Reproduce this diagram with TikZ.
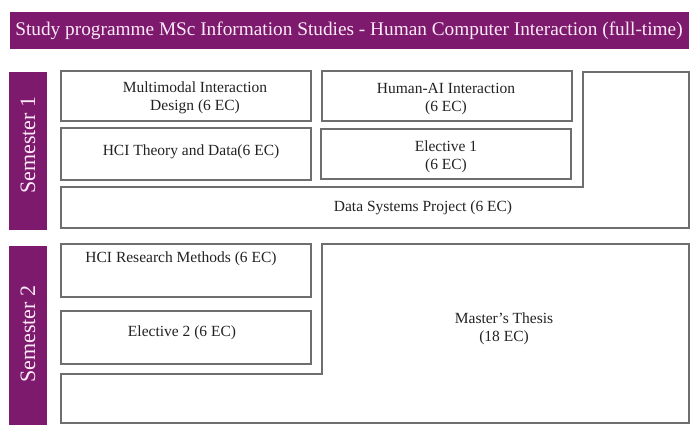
\documentclass[tikz,border=0pt]{standalone}
\usepackage{fontspec}
\setmainfont{Liberation Serif}
\definecolor{uvapurple}{HTML}{7E1A6E}
\definecolor{boxline}{HTML}{6E6E6E}
\definecolor{boxtext}{HTML}{222222}
\definecolor{lighttext}{HTML}{FBEAF6}
\begin{document}
\begin{tikzpicture}[x=1pt,y=-1pt,
  band/.style={fill=uvapurple,draw=none},
  course/.style={draw=boxline,line width=1.3pt,fill=white},
  ctext/.style={text=boxtext,font=\fontsize{15.5}{18}\selectfont,align=center,inner sep=0pt},
  semtext/.style={text=lighttext,font=\fontsize{22}{24}\selectfont,rotate=90,inner sep=0pt}]
\useasboundingbox (0,0) rectangle (700,434);
\fill[white] (0,0) rectangle (700,434);
% title
\fill[band] (10,12) rectangle (689,49);
\node[text=lighttext,font=\fontsize{19.3}{22}\selectfont,inner sep=0pt] (title) at (349,30.5)
  {Study programme MSc Information Studies - Human Computer Interaction (full-time)};
% semester bands
\fill[band] (9,72) rectangle (47,230);
\node[semtext] (sem1) at (28,145) {Semester 1};
\fill[band] (9,246) rectangle (47,425);
\node[semtext] (sem2) at (28,334) {Semester 2};
% semester 1
\draw[course] (61,187) -- (583,187) -- (583,72) -- (689,72) -- (689,228) -- (61,228) -- cycle;
\node[ctext] (dsp) at (423,208) {Data Systems Project (6 EC)};
\draw[course] (61,71) rectangle (311,121);
\node[ctext] (mid) at (195,98) {Multimodal Interaction\\Design (6 EC)};
\draw[course] (322,71) rectangle (572,121);
\node[ctext] (hai) at (446,99) {Human-AI Interaction\\(6 EC)};
\draw[course] (61,128) rectangle (311,180);
\node[ctext] (htd) at (191,152) {HCI Theory and Data(6 EC)};
\draw[course] (321,129) rectangle (571,179);
\node[ctext] (el1) at (446,157) {Elective 1\\(6 EC)};
% semester 2
\draw[course] (322,244) -- (689,244) -- (689,423) -- (61,423) -- (61,374) -- (322,374) -- cycle;
\node[ctext] (mt) at (504,329) {Master's Thesis\\(18 EC)};
\draw[course] (61,244) rectangle (311,297);
\node[ctext] (hrm) at (181,259) {HCI Research Methods (6 EC)};
\draw[course] (61,311) rectangle (311,364);
\node[ctext] (el2) at (182,333) {Elective 2 (6 EC)};
\end{tikzpicture}
\end{document}
